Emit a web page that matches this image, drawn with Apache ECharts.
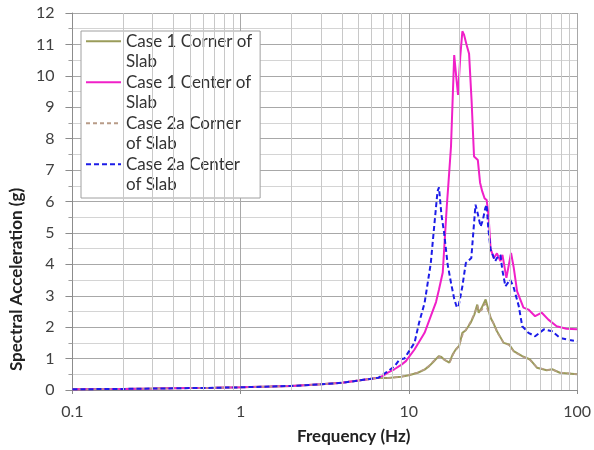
<!DOCTYPE html>
<html>
<head>
<meta charset="utf-8">
<title>Spectral Acceleration</title>
<script src="https://cdn.jsdelivr.net/npm/echarts@6/dist/echarts.min.js"></script>
<style>
  html, body { margin: 0; padding: 0; background: #fff; }
  #chart { width: 594px; height: 450px; }
</style>
</head>
<body>
<div id="chart"></div>
<script>
// series names and how the legend breaks them
const caseNames = ['Case 1 Corner of Slab', 'Case 1 Center of Slab', 'Case 2a Corner of Slab', 'Case 2a Center of Slab'];
const legendLines = [['Case 1 Corner of', 'Slab'], ['Case 1 Center of', 'Slab'], ['Case 2a Corner', 'of Slab'], ['Case 2a Center', 'of Slab']];

// low frequency part, all four cases almost on top of each other
const lowFreq = [0.1, 0.15, 0.2, 0.3, 0.5, 0.7, 1, 1.5, 2, 3, 4, 5, 6, 6.6];
const lowVals = [0.02, 0.03, 0.035, 0.045, 0.06, 0.07, 0.085, 0.11, 0.13, 0.18, 0.23, 0.3, 0.36, 0.39];

// Case 1 Corner of Slab
const c1CornerFreq = [7.5, 9, 10, 11.3, 12.4, 13.2, 14, 14.4, 15.1, 15.6, 16.2, 16.8, 17.4, 18.2, 19, 19.9, 20.8, 21.8, 23.3, 24.5, 25.5, 26, 27, 28.6, 30.6, 32, 33.4, 36.6, 39.4, 42, 47.2, 52.6, 57.7, 66, 71, 79, 100];
const c1CornerVals = [0.38, 0.42, 0.47, 0.55, 0.65, 0.76, 0.9, 0.97, 1.08, 1.05, 0.97, 0.92, 0.87, 1.13, 1.29, 1.4, 1.82, 1.9, 2.14, 2.4, 2.72, 2.46, 2.6, 2.88, 2.3, 2.1, 1.87, 1.5, 1.45, 1.24, 1.08, 0.97, 0.71, 0.63, 0.66, 0.55, 0.5];

// Case 1 Center of Slab
const c1CenterFreq = [7, 7.5, 8.2, 9, 9.6, 10.8, 12.4, 13.5, 14.5, 15.1, 15.9, 16.8, 17.2, 17.8, 18.6, 19.1, 19.6, 20.2, 20.8, 21.3, 22, 22.8, 23.6, 24.4, 25.7, 26.5, 27.3, 28.2, 29, 29.8, 30.6, 32, 33.4, 35, 36, 38, 40.5, 42, 44, 48, 51.4, 56.3, 61.7, 67.5, 75.6, 86.5, 100];
const c1CenterVals = [0.45, 0.55, 0.66, 0.8, 0.92, 1.29, 1.82, 2.35, 2.8, 3.2, 3.74, 5.84, 6.6, 7.75, 10.66, 10.0, 9.39, 10.6, 11.42, 11.3, 11.0, 10.7, 9.2, 7.43, 7.32, 6.6, 6.32, 6.1, 6.05, 5.5, 4.5, 4.2, 4.35, 4.1, 4.3, 3.57, 4.36, 3.9, 3.14, 2.62, 2.56, 2.35, 2.46, 2.24, 2.03, 1.95, 1.93];

// Case 2a Corner of Slab
const c2CornerFreq = [7.5, 9, 10, 11.3, 12.4, 13.2, 14, 14.6, 15.2, 15.8, 16.4, 17, 17.6, 18.4, 19.2, 20, 21, 22, 23.4, 24.6, 25.6, 26.2, 27.2, 28.4, 30.4, 32, 33.4, 36.6, 39.4, 42, 47.2, 52.6, 57.7, 66, 71, 79, 100];
const c2CornerVals = [0.38, 0.42, 0.48, 0.56, 0.66, 0.78, 0.92, 1.0, 1.06, 1.02, 0.95, 0.9, 0.9, 1.15, 1.3, 1.45, 1.8, 1.95, 2.2, 2.45, 2.68, 2.5, 2.55, 2.75, 2.35, 2.1, 1.85, 1.5, 1.43, 1.22, 1.07, 0.95, 0.72, 0.64, 0.65, 0.56, 0.5];

// Case 2a Center of Slab
const c2CenterFreq = [7.5, 8.2, 8.8, 9.4, 9.9, 10.8, 11.5, 12.4, 13.5, 14.2, 14.8, 15.1, 15.6, 16.2, 17, 17.8, 18.6, 19.3, 19.8, 20.8, 21.8, 23.5, 24.9, 25.7, 26.7, 27.5, 28.5, 29, 29.6, 30.6, 32.6, 33.4, 35, 36, 37.5, 40, 41.8, 45, 47.2, 51.4, 56.3, 63.5, 71, 79, 90, 100];
const c2CenterVals = [0.6, 0.75, 0.97, 1.0, 1.19, 1.5, 2.14, 2.77, 4.04, 5.31, 6.32, 6.45, 5.6, 5.0, 4.0, 3.41, 2.9, 2.62, 2.7, 3.3, 4.04, 4.2, 5.9, 5.6, 5.2, 5.4, 5.8, 5.9, 5.2, 4.47, 4.1, 4.2, 4.3, 3.8, 3.3, 3.51, 3.3, 2.67, 2.03, 1.82, 1.71, 1.93, 1.87, 1.66, 1.59, 1.55];

// tick labels and the minor vertical grid lines of the log axis
const yTicks = [0, 1, 2, 3, 4, 5, 6, 7, 8, 9, 10, 11, 12];
const xMinorLines = [0.2, 0.3, 0.4, 0.5, 0.6, 0.7, 0.8, 0.9, 2, 3, 4, 5, 6, 7, 8, 9, 20, 30, 40, 50, 60, 70, 80, 90];

const FONT = 'Lato, "Open Sans", sans-serif';
const LH = 20.5; // legend line height

function pairs(f, v) {
  const low = lowFreq.map((x, i) => [x, lowVals[i]]);
  return low.concat(f.map((x, i) => [x, v[i]]));
}

const chart = echarts.init(document.getElementById('chart'), null, { renderer: 'canvas' });

const lineBase = { type: 'line', showSymbol: false, symbol: 'none', z: 3, animation: false };

const option = {
  animation: false,
  backgroundColor: '#fff',
  textStyle: { fontFamily: FONT },
  grid: { left: 68, right: 16, top: 13, bottom: 59 },
  legend: {
    orient: 'vertical',
    left: 81,
    top: 31,
    itemWidth: 35,
    itemHeight: 14,
    itemGap: -LH,
    padding: [-LH, 8, 3, 4],
    borderColor: '#a0a0a0',
    borderWidth: 1,
    backgroundColor: '#fff',
    itemStyle: { opacity: 0 },
    data: caseNames,
    // blank first line so the icon sits beside the first text line
    formatter: function (name) {
      const p = legendLines[caseNames.indexOf(name)];
      return '{s| }\n{a|' + p[0] + '}\n{a|' + p[1] + '}';
    },
    textStyle: {
      fontFamily: FONT,
      fontSize: 17,
      lineHeight: LH,
      color: '#333',
      rich: {
        s: { fontSize: 17, lineHeight: LH, height: LH, fontFamily: FONT },
        a: { fontSize: 17, lineHeight: LH, height: LH, color: '#333', fontFamily: FONT }
      }
    }
  },
  xAxis: {
    type: 'log',
    logBase: 10,
    min: 0.1,
    max: 100,
    name: 'Frequency (Hz)',
    nameLocation: 'middle',
    nameGap: 38,
    nameTextStyle: { fontFamily: FONT, fontSize: 17, fontWeight: 'bold', color: '#222', padding: [0, 0, 0, 58] },
    axisLine: { show: true, lineStyle: { color: '#8c8c8c' } },
    axisTick: { show: true, length: 4, lineStyle: { color: '#8c8c8c' } },
    axisLabel: { fontFamily: FONT, fontSize: 16, color: '#404040', margin: 14, formatter: v => String(v) },
    splitLine: { show: true, lineStyle: { color: '#a8a8a8' } }
  },
  yAxis: {
    type: 'value',
    min: 0,
    max: 12,
    interval: 1,
    name: 'Spectral Acceleration (g)',
    nameLocation: 'middle',
    nameGap: 34,
    nameRotate: 90,
    nameTextStyle: { fontFamily: FONT, fontSize: 17, fontWeight: 'bold', color: '#222', padding: [0, 156, 0, 0] },
    axisLine: { show: true, lineStyle: { color: '#8c8c8c' } },
    axisTick: { show: true, inside: false, length: 7, lineStyle: { color: '#8c8c8c' } },
    minorTick: { show: true, splitNumber: 2, length: 4, lineStyle: { color: '#a0a0a0' } },
    axisLabel: {
      fontFamily: FONT, fontSize: 16, color: '#404040', margin: 18,
      formatter: v => (yTicks.indexOf(v) >= 0 ? String(v) : '')
    },
    splitLine: { show: true, lineStyle: { color: '#a8a8a8' } },
    minorSplitLine: { show: true, lineStyle: { color: '#d4d4d4' } }
  },
  series: [
    {
      name: 'minor grid',
      type: 'line',
      data: [],
      z: 1,
      silent: true,
      animation: false,
      markLine: {
        silent: true,
        symbol: 'none',
        animation: false,
        label: { show: false },
        lineStyle: { color: '#c8c8c8', type: 'solid', width: 1 },
        data: xMinorLines.map(v => ({ xAxis: v }))
      }
    },
    Object.assign({}, lineBase, {
      name: caseNames[0],
      data: pairs(c1CornerFreq, c1CornerVals),
      itemStyle: { color: '#9a9c5a' },
      lineStyle: { color: '#9a9c5a', width: 2 }
    }),
    Object.assign({}, lineBase, {
      name: caseNames[1],
      data: pairs(c1CenterFreq, c1CenterVals),
      itemStyle: { color: '#f020c8' },
      lineStyle: { color: '#f020c8', width: 2 }
    }),
    Object.assign({}, lineBase, {
      name: caseNames[2],
      data: pairs(c2CornerFreq, c2CornerVals),
      itemStyle: { color: '#b89c88' },
      lineStyle: { color: '#b89c88', width: 1.5, type: [4, 3] }
    }),
    Object.assign({}, lineBase, {
      name: caseNames[3],
      data: pairs(c2CenterFreq, c2CenterVals),
      itemStyle: { color: '#1c1ce8' },
      lineStyle: { color: '#1c1ce8', width: 2, type: [5, 3] }
    })
  ]
};

chart.setOption(option);
</script>
</body>
</html>
